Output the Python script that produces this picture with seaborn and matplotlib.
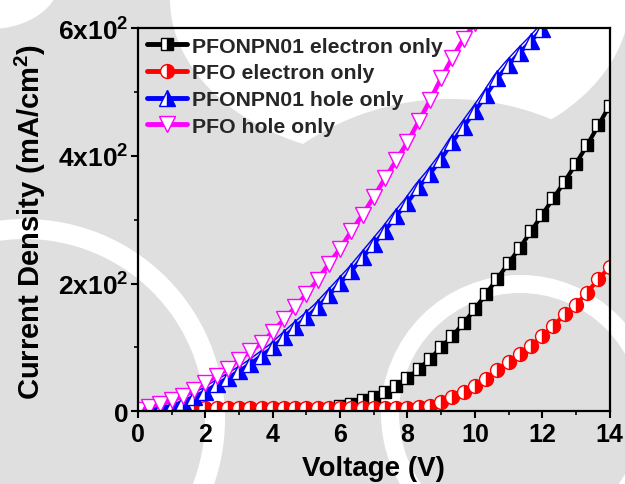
import numpy as np
import matplotlib
matplotlib.use("Agg")
import matplotlib.pyplot as plt
import matplotlib.transforms as mtransforms
from matplotlib.patches import Ellipse
import seaborn as sns

# ---------------- data ----------------
voltage = [round(k / 3, 3) for k in range(43)]

pfonpn01_electron = [0, 0, 0, 0, 0, 0, 0, 0, 0, 0, 0, 0, 0, 0, 0, 1,
                     2, 4, 8, 12, 17, 23, 30, 40, 52, 66, 82, 100, 118, 138,
                     160, 184, 208, 232, 256, 282, 308, 334, 360, 388, 417, 448, 479]

pfo_electron_v = voltage[4:]
pfo_electron = [5, 5, 5, 5, 5, 5, 5, 5, 5, 5, 5, 5, 5, 5, 5, 5, 5, 5, 5, 5,
                5, 6, 9, 14, 22, 30, 40, 51, 64, 77, 90, 102, 118, 134, 152,
                167, 186, 207, 226]

pfonpn01_hole_v = voltage[:38]
pfonpn01_hole = [0, 2, 4, 8, 15, 23, 31, 42, 52, 63, 74, 87, 100, 116, 132,
                 147, 163, 182, 201, 220, 241, 262, 283, 306, 327, 351, 372,
                 395, 422, 446, 470, 495, 522, 543, 562, 580, 599, 620]

pfo_hole_v = voltage[:32]
pfo_hole = [2, 7, 12, 17, 24, 34, 45, 55, 67, 81, 94, 107, 125, 144, 163,
            184, 206, 231, 255, 282, 308, 336, 365, 393, 422, 454, 487, 522,
            554, 584, 608, 640]

labels = ["PFONPN01 electron only", "PFO electron only",
          "PFONPN01 hole only", "PFO hole only"]
yticks = [0, 200, 400, 600]
ytick_labels = ["0", "2x10$^\\mathbf{2}$", "4x10$^\\mathbf{2}$", "6x10$^\\mathbf{2}$"]
xticks = [0, 2, 4, 6, 8, 10, 12, 14]

# ---------------- style ----------------
sns.set_theme(style="ticks")
plt.rcParams['font.family'] = ['Liberation Sans', 'DejaVu Sans']
plt.rcParams['font.weight'] = 'bold'
plt.rcParams['mathtext.fontset'] = 'custom'
plt.rcParams['mathtext.rm'] = 'Liberation Sans:bold'
plt.rcParams['mathtext.bf'] = 'Liberation Sans:bold'
plt.rcParams['mathtext.it'] = 'Liberation Sans:bold'

W, H = 625, 485
GRAY = '#dfdfdf'
fig = plt.figure(figsize=(W / 100, H / 100), dpi=100, facecolor=GRAY)


def blob(cx, cy, rx, ry=None, face='white', edge='none', lw_px=0):
    ry = rx if ry is None else ry
    e = Ellipse((cx / W, 1 - cy / H), 2 * rx / W, 2 * ry / H,
                transform=fig.transFigure, facecolor=face, edgecolor=edge,
                linewidth=lw_px * 0.72, zorder=-10)
    fig.add_artist(e)


# watermark-like background
blob(-10, -20, 70, 50, face='white')
blob(400, 0, 230, 160, face='white')
blob(450, 363, 263, face=GRAY)
blob(520, 415, 130, face='none', edge='white', lw_px=18)
blob(25, 420, 190, face='none', edge='white', lw_px=20)

ax = fig.add_axes([138 / W, 1 - 412.3 / H, (609.6 - 138) / W, (412.3 - 29.3) / H])
ax.set_facecolor('none')

common = dict(ax=ax, markeredgewidth=1.0, clip_on=True)
sns.lineplot(x=voltage, y=pfonpn01_electron, color='black', linewidth=3,
             marker='s', markersize=8.5, fillstyle='right',
             markerfacecolor='black', markerfacecoloralt='white',
             markeredgecolor='black', label=labels[0], **common)
sns.lineplot(x=pfo_electron_v, y=pfo_electron, color='red', linewidth=3,
             marker='o', markersize=10, fillstyle='right',
             markerfacecolor='red', markerfacecoloralt='white',
             markeredgecolor='red', label=labels[1], **common)
# thin companion line of the blue series, slightly shifted up-left
shift = mtransforms.ScaledTranslation(-0.03, 0.03, fig.dpi_scale_trans)
sns.lineplot(x=pfonpn01_hole_v, y=pfonpn01_hole, color='blue', linewidth=1,
             ax=ax, legend=False, clip_on=True)
ax.lines[-1].set_transform(ax.transData + shift)
sns.lineplot(x=pfonpn01_hole_v, y=pfonpn01_hole, color='blue', linewidth=3,
             marker='^', markersize=11, fillstyle='right',
             markerfacecolor='blue', markerfacecoloralt='white',
             markeredgecolor='blue', label=labels[2], **common)
sns.lineplot(x=pfo_hole_v, y=pfo_hole, color='magenta', linewidth=3.2,
             marker='v', markersize=11,
             markerfacecolor='white', markeredgecolor='magenta',
             label=labels[3], **common)

ax.set_xlim(0, 14)
ax.set_ylim(0, 600)
ax.set_xticks(xticks)
ax.set_xticks(range(0, 15), minor=True)
ax.set_yticks(yticks)
ax.set_yticklabels(ytick_labels)
ax.set_yticks([100, 300, 500], minor=True)
ax.tick_params(axis='both', which='major', direction='out', length=5,
               width=1.5, labelsize=18, color='black', labelcolor='black')
ax.tick_params(axis='both', which='minor', direction='out', length=3,
               width=1.2, color='black')
ax.tick_params(axis='x', pad=3)
ax.tick_params(axis='y', pad=2, labelsize=19)
for lab in ax.get_xticklabels() + ax.get_yticklabels():
    lab.set_fontweight('bold')
for s in ax.spines.values():
    s.set_linewidth(1.6)
    s.set_color('black')
    s.set_visible(True)

ax.set_xlabel('Voltage (V)', fontsize=20, fontweight='bold', color='black')
ax.xaxis.set_label_coords(0.5, -0.113)
ax.set_ylabel('Current Density (mA/cm$^\\mathbf{2}$)', fontsize=21,
              fontweight='bold', color='black')
ax.yaxis.set_label_coords(-0.19, 0.497)

leg = ax.legend(loc='upper left', bbox_to_anchor=(0.0, 1.0), frameon=False,
                handlelength=1.9, handletextpad=0.25,
                labelspacing=0.36, borderaxespad=0.2, borderpad=0.2,
                numpoints=1, prop={'weight': 'bold', 'size': 15.3})
for h in leg.legend_handles:
    h.set_linewidth(3.5)

fig.savefig('out.png', dpi=100, facecolor=GRAY)
